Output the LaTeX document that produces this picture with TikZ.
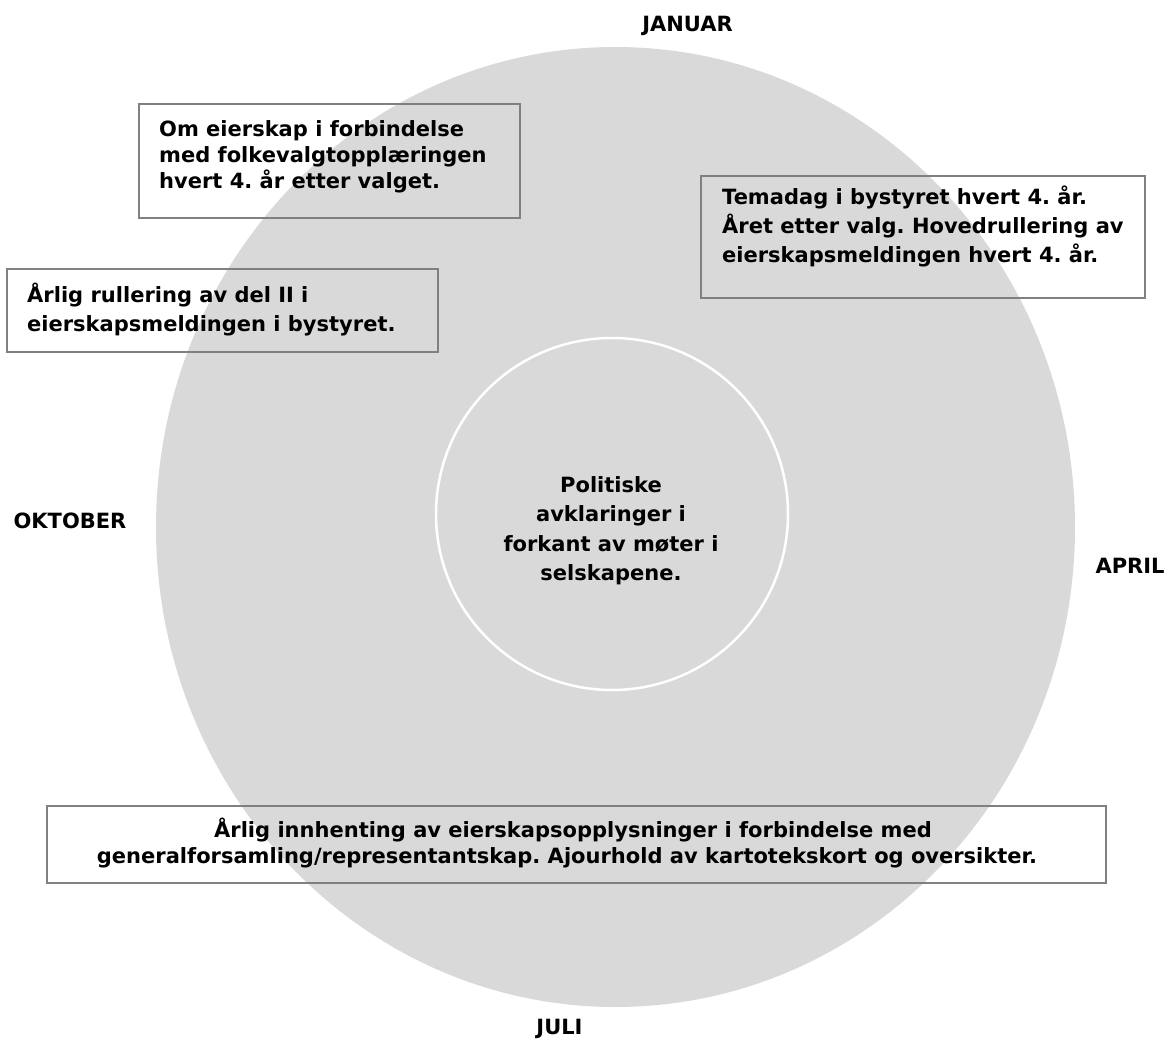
\documentclass[tikz,border=0pt]{standalone}
\usepackage{fontspec}
\setmainfont{DejaVu Sans}
\frenchspacing
\definecolor{wheelgray}{RGB}{217,217,217}
\definecolor{boxline}{RGB}{128,128,128}
\begin{document}
\begin{tikzpicture}[x=1pt,y=-1pt,
  txt/.style={font=\bfseries\fontsize{21}{26}\selectfont, inner sep=0pt, text=black},
  frame/.style={draw=boxline, line width=2pt, fill=none, inner sep=0pt, anchor=north west},
  month/.style={font=\bfseries\fontsize{21}{26}\selectfont, inner sep=0pt, anchor=base}]
\useasboundingbox (0,0) rectangle (1170,1040);
% wheel
\fill[wheelgray] (615.5,527) ellipse [x radius=459.5, y radius=480];
\node[circle, draw=white, line width=2.5pt, fill=wheelgray, minimum size=352pt, inner sep=0pt] (core) at (612,514) {};
\node[txt, align=center, anchor=base, font=\bfseries\fontsize{21}{29.5}\selectfont] (coretxt) at (611,580.5)
  {Politiske\\avklaringer i\\forkant av møter i\\selskapene.};
% months
\node[month] (jan) at (687.5,32) {JANUAR};
\node[month] (apr) at (1130,573) {APRIL};
\node[month] (jul) at (559.5,1034) {JULI};
\node[month] (okt) at (70,528) {OKTOBER};
% boxes
\node[frame, minimum width=381pt, minimum height=114pt] (b1) at (138,103) {};
\node[txt, align=left, anchor=base west] (t1) at (159,189)
  {Om eierskap i forbindelse\\med folkevalgtopplæringen\\hvert 4. år etter valget.};
\node[frame, minimum width=431pt, minimum height=83pt] (b2) at (6,268) {};
\node[txt, align=left, anchor=base west, font=\bfseries\fontsize{21}{29}\selectfont] (t2) at (27,332)
  {Årlig rullering av del II i\\eierskapsmeldingen i bystyret.};
\node[frame, minimum width=444pt, minimum height=122pt] (b3) at (700,175) {};
\node[txt, align=left, anchor=base west, font=\bfseries\fontsize{21}{29}\selectfont] (t3) at (722,263)
  {Temadag i bystyret hvert 4. år.\\Året etter valg. Hovedrullering av\\eierskapsmeldingen hvert 4. år.};
\node[frame, minimum width=1059pt, minimum height=77pt] (b4) at (46,805) {};
\node[txt, align=center, anchor=base] (t4) at (567,863)
  {\kern12pt Årlig innhenting av eierskapsopplysninger i forbindelse med\\generalforsamling/representantskap. Ajourhold av kartotekskort og oversikter.};
\end{tikzpicture}
\end{document}
